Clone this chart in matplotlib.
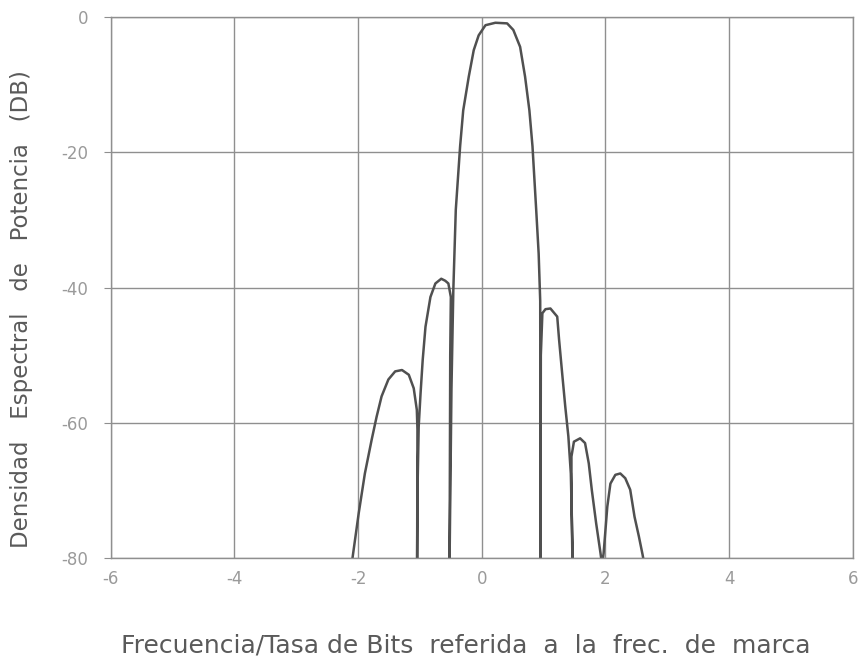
import matplotlib.pyplot as plt

plt.rcParams["axes.unicode_minus"] = False

# puntos (frecuencia normalizada, dB)
freq = [-2.09, -1.99, -1.89, -1.78, -1.70, -1.62, -1.51, -1.40, -1.29, -1.18, -1.10, -1.05, -1.04, -1.045,
        -1.04, -1.02, -0.99, -0.955, -0.91, -0.83, -0.75, -0.655, -0.59, -0.54, -0.50, -0.51, -0.52,
        -0.49, -0.46, -0.42, -0.35, -0.30, -0.21, -0.13, -0.05, 0.06, 0.22, 0.41, 0.51, 0.62, 0.70, 0.77,
        0.82, 0.88, 0.92, 0.945, 0.95,
        0.955, 0.98, 1.03, 1.11, 1.22, 1.25, 1.30, 1.35, 1.40, 1.44, 1.47,
        1.465, 1.45, 1.45, 1.49, 1.59, 1.67, 1.73, 1.78, 1.85, 1.92, 1.93,
        1.96, 1.97, 2.03, 2.08, 2.16, 2.24, 2.32, 2.40, 2.47, 2.54, 2.60, 2.61]
dens = [-80, -73.4, -67.5, -62.5, -59.1, -56.1, -53.6, -52.4, -52.2, -52.9, -54.9, -58.1, -61, -80,
        -70.5, -60.6, -55.7, -50.7, -45.8, -41.4, -39.4, -38.7, -39.0, -39.4, -41.4, -50, -80,
        -55, -40.4, -28.5, -19.1, -13.8, -8.8, -4.9, -2.7, -1.2, -0.84, -0.93, -1.9, -4.4, -8.8, -13.8,
        -19.1, -28.5, -35, -42, -80,
        -50, -43.8, -43.2, -43.1, -44.3, -47.7, -52.7, -57.6, -62, -67.5, -80,
        -80, -70, -65, -62.8, -62.3, -63, -66, -70, -74.9, -79.3, -80,
        -80, -79.3, -72.4, -69, -67.7, -67.5, -68.2, -69.9, -73.9, -76.8, -79.5, -80]

x_ticks = [-6, -4, -2, 0, 2, 4, 6]
y_ticks = [0, -20, -40, -60, -80]

fig = plt.figure(figsize=(8.58, 6.57), dpi=100)
ax = fig.add_axes([0.129, 0.1507, 0.865, 0.8233])

ax.plot(freq, dens, color="#505050", linewidth=1.8)

ax.set_xlim(-6, 6)
ax.set_ylim(-80, 0)
ax.set_xticks(x_ticks)
ax.set_yticks(y_ticks)
ax.grid(True, color="#8f8f8f", linewidth=1.0)
for s in ax.spines.values():
    s.set_color("#8f8f8f")
    s.set_linewidth(1.0)

ax.tick_params(axis="x", length=0, pad=9, labelsize=12, labelcolor="#9a9a9a")
ax.tick_params(axis="y", length=5, color="#8f8f8f", pad=11, labelsize=12, labelcolor="#9a9a9a")

ax.set_xlabel("Frecuencia/Tasa de Bits  referida  a  la  frec.  de  marca",
              fontsize=18, color="#5a5a5a")
ax.xaxis.set_label_coords(0.478, -0.14)
ax.set_ylabel("Densidad   Espectral   de   Potencia   (DB)",
              fontsize=16.5, color="#5a5a5a")
ax.yaxis.set_label_coords(-0.104, 0.46)

plt.savefig("out.png", dpi=100)
